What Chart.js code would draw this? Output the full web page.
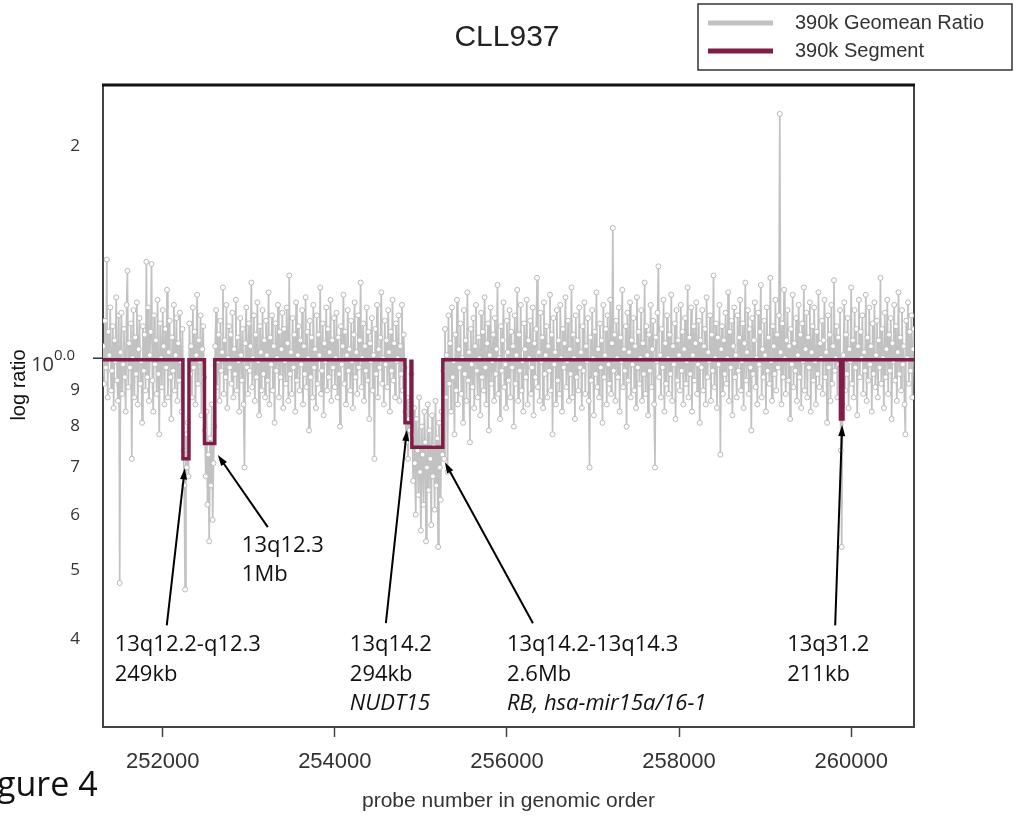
<!DOCTYPE html>
<html><head><meta charset="utf-8">
<script src="https://cdn.jsdelivr.net/npm/chart.js@4.4.0/dist/chart.umd.min.js"></script>
<style>html,body{margin:0;padding:0;background:#fff;overflow:hidden}canvas{display:block}</style>
</head><body>
<canvas id="c" width="1017" height="816"></canvas>
<script>
// ---------- text ----------
const chartTitle = 'CLL937';
const xAxisTitle = 'probe number in genomic order';
const yAxisTitle = 'log ratio';
const figureLabel = 'gure 4';
const legendLabels = ['390k Geomean Ratio', '390k Segment'];

// ---------- axes ----------
const xMin = 251306, xMax = 260730;
const yMin = 0.30, yMax = 2.44;
const xTicks = [252000, 254000, 256000, 258000, 260000];
const yTickValues = [0.4, 0.5, 0.6, 0.7, 0.8, 0.9, 1, 2];
const yTickLabels = ['4', '5', '6', '7', '8', '9', '', '2'];

// ---------- geomean ratio (values x100), one value every probeStep probes ----------
const probeStep = 10;
const ratioP1Start = 251310;
const ratioP1 = [104,92,113,97,138,88,109,101,118,90,96,111,85,106,99,122,93,87,115,48,
102,116,89,98,110,94,84,119,133,91,105,97,112,72,100,117,88,107,95,120,
86,103,114,92,99,81,111,96,108,90,137,94,118,87,101,109,136,93,84,115,
98,106,89,121,95,78,112,100,91,117,104,86,110,97,125,88,102,113,94,82,
107,96,119,90,101,114,87,105,93,116,99,84,110];
const ratioDel1Start = 252240;
const ratioDel1 = [74,66,47,78,70,81,68];
const ratioP2Start = 252310;
const ratioP2 = [112,95,104,88,118,97,109,86,101,123,92,106,99,115,83,103,111,94];
const ratioDel2Start = 252490;
const ratioDel2 = [79,68,84,62,73,55,77,66,86,59,71,80];
const ratioP3Start = 252610;
const ratioP3 = [104,117,91,99,108,87,113,96,102,126,89,106,94,119,85,100,111,97,108,92,
116,88,103,95,121,90,107,99,84,114,101,93,110,86,70,105,118,97,89,112,
96,104,128,91,100,115,87,108,94,120,99,83,111,102,90,117,95,106,88,113,
101,93,124,86,107,98,115,90,104,81,112,96,100,119,88,109,94,103,116,85,
110,99,92,118,105,87,131,95,102,89,114,97,108,84,120,93,101,111,90,106,
98,117,86,104,95,122,91,109,100,79,113,94,107,88,119,97,103,85,115,92,
108,101,126,89,96,112,83,105,99,118,90,110,94,102,121,87,106,97,114,91,
100,116,88,107,95,80,111,98,104,123,92,109,86,101,117,96,103,90,113,99,
85,108,120,94,102,89,115,97,106,128,91,100,112,87,104,96,118,93,109,82,
105,99,114,90,101,72,110,95,119,88,103,97,107,124,92,100,86,113,98,106,
91,117,102,84,109,96,121,93,105,88,112,99,100,115,87,104,95,119,90,108,97];
const ratioDel3Start = 254820;
const ratioDel3 = [84,76,88,72,82,79,86];
const ratioGapStart = 254890;
const ratioGap = [95];
const ratioDel4Start = 254900;
const ratioDel4 = [78,67,85,71,60,82,74,64,88,69,57,80,73,62,84,76,55,70,86,65,
79,72,58,83,68,75,61,87,66,77,54,81,70,63,84,73];
const ratioP4Start = 255260;
const ratioP4 = [96,72,110,88,101,69,115,92,105,84,118,94,99,78,108,90,121,86,103,97,
112,89,100,81,117,95,106,87,124,93,102,76,110,98,91,114,85,104,119,96,
88,107,100,83,116,94,109,90,122,97,86,105,112,79,101,118,92,99,108,87,
114,95,103,127,89,100,82,111,96,106,120,91,98,85,113,102,93,117,88,109,
97,104,80,115,92,101,125,87,108,96,119,90,99,84,112,103,94,121,86,106,
100,113,89,97,118,83,105,94,110,130,91,102,87,116,99,107,85,120,95,101,
111,88,104,96,123,90,108,78,114,98,102,86,117,93,106,89,119,100,84,110,
97,105,122,91,99,113,87,103,95,126,88,108,100,82,115,94,106,90,118,97,
102,85,111,96,120,89,104,99,114,87,70,107,93,117,100,83,109,95,124,91,
103,88,112,97,106,81,119,94,101,110,86,115,98,92,121,89,105,153,96,108,
87,113,100,94,118,84,107,99,125,91,103,96,111,80,116,93,102,120,88,106,
98,114,90,104,85,122,97,109,92,100,117,87,105,95,128,89,111,101,83,108,
96,119,91,103,113,86,70,107,99,116,135,94,101,88,110,97,121,84,105,92,
115,100,89,108,95,123,87,104,98,112,82,117,93,106,101,90,119,96,109,86,
103,114,92,99,126,88,107,95,118,84,101,111,93,105,120,89,98,113,81,106,
97,117,90,104,110,86,122,94,102,99,115,87,108,96,131,91,100,112,85,107,
98,119,73,103,111,89,106,95,116,92,100,124,87,109,97,113,83,104,118,94,
101,88,115,96,107,121,90,99,112,85,105,128,93,102,117,89,110,97,79,114,
95,106,120,91,100,86,116,98,109,127,88,103,94,113,101,84,118,96,107,92,
130,99,87,111,104,95,121,90,108,97,115,222,102,86,112,94,125,100,89,106,
117,93,104,82,110,98,123,91,105,96,114,87,101,119,94,108,85,112,99,126,
90,103,116,88,107,97,120,84,102,111,93,118,99,86,109,95,124,91,105,100,
113,89,106,121,94,102,81,115,97,108,87,119,92,104,129,96,100,111,88,107,98,117];
const ratioDel5Start = 259880;
const ratioDel5 = [74,54,86];
const ratioP5Start = 259910;
const ratioP5 = [101,120,90,108,95,114,85,103,99,126,92,106,88,117,97,110,83,104,121,94,
109,100,115,89,102,96,123,87,107,93,118,98,104,84,112,95,120,91,101,113,
88,106,97,130,92,110,100,85,116,94,103,121,89,108,96,114,82,105,99,119,
93,111,87,102,124,95,107,90,117,98,104,86,78,113,100,120,92,109,96,115,88,103,110];

// ---------- segmentation ----------
const segStart = [251306, 252235, 252305, 252485, 252605, 254815, 254885, 254895, 255255, 259875, 259905];
const segEnd   = [252235, 252305, 252485, 252605, 254815, 254885, 254895, 255255, 259875, 259905, 260730];
const segValue = [0.995, 0.72, 0.995, 0.757, 0.995, 0.81, 0.99, 0.748, 0.995, 0.82, 0.995];

// ---------- annotations (data coordinates) ----------
const annotations = [
  {lines:['13q12.2-q12.3','249kb'], italic:[false,false], tx:251442, ty:0.392, ax0:252047, ay0:0.418, ax1:252256, ay1:0.698},
  {lines:['13q12.3','1Mb'], italic:[false,false], tx:252919, ty:0.543, ax0:253221, ay0:0.576, ax1:252640, ay1:0.729},
  {lines:['13q14.2','294kb','NUDT15'], italic:[false,false,true], tx:254174, ty:0.392, ax0:254593, ay0:0.421, ax1:254837, ay1:0.791},
  {lines:['13q14.2-13q14.3','2.6Mb','RB, hsa-mir15a/16-1'], italic:[false,false,true], tx:256000, ty:0.392, ax0:256302, ay0:0.421, ax1:255279, ay1:0.712},
  {lines:['13q31.2','211kb'], italic:[false,false], tx:259256, ty:0.392, ax0:259814, ay0:0.418, ax1:259895, ay1:0.804}
];

// ---------- styles ----------
const GRAY = '#c2c2c2';
const SEG = '#7f1d48';
const INK = '#333333';
const ANN_FONT = '"Open Sans", "Noto Sans", sans-serif';
const AX_FONT = '"Liberation Sans", Arial, sans-serif';

// ---------- build points ----------
const ratioBlocks = [
  [ratioP1Start, ratioP1], [ratioDel1Start, ratioDel1], [ratioP2Start, ratioP2], [ratioDel2Start, ratioDel2],
  [ratioP3Start, ratioP3], [ratioDel3Start, ratioDel3], [ratioGapStart, ratioGap], [ratioDel4Start, ratioDel4],
  [ratioP4Start, ratioP4], [ratioDel5Start, ratioDel5], [ratioP5Start, ratioP5]
];
const ratioPoints = [];
ratioBlocks.forEach(([s, arr]) => arr.forEach((v, k) => ratioPoints.push({x: s + k * probeStep, y: v / 100})));
const segPoints = [];
segStart.forEach((s, k) => { segPoints.push({x: s, y: segValue[k]}); segPoints.push({x: segEnd[k], y: segValue[k]}); });

const overlay = {
  id: 'overlay',
  beforeDatasetsDraw(chart) {
    const {ctx, chartArea: a} = chart;
    ctx.save();
    ctx.strokeStyle = '#444'; ctx.lineWidth = 2;
    ctx.strokeRect(a.left, a.top, a.right - a.left, a.bottom - a.top);
    ctx.strokeStyle = '#111'; ctx.lineWidth = 3;
    ctx.beginPath(); ctx.moveTo(a.left - 1, a.top); ctx.lineTo(a.right + 1, a.top); ctx.stroke();
    ctx.restore();
  },
  afterDatasetsDraw(chart) {
    const {ctx, scales: {x, y}} = chart;
    ctx.save();
    annotations.forEach(an => {
      const x0 = x.getPixelForValue(an.ax0), y0 = y.getPixelForValue(an.ay0);
      const x1 = x.getPixelForValue(an.ax1), y1 = y.getPixelForValue(an.ay1);
      const ang = Math.atan2(y1 - y0, x1 - x0);
      const L = 11, W = 3.5;
      ctx.strokeStyle = '#000'; ctx.lineWidth = 2;
      ctx.beginPath(); ctx.moveTo(x0, y0);
      ctx.lineTo(x1 - Math.cos(ang) * L * 0.8, y1 - Math.sin(ang) * L * 0.8); ctx.stroke();
      ctx.fillStyle = '#000';
      ctx.beginPath(); ctx.moveTo(x1, y1);
      ctx.lineTo(x1 - Math.cos(ang) * L - Math.sin(ang) * W, y1 - Math.sin(ang) * L + Math.cos(ang) * W);
      ctx.lineTo(x1 - Math.cos(ang) * L + Math.sin(ang) * W, y1 - Math.sin(ang) * L - Math.cos(ang) * W);
      ctx.closePath(); ctx.fill();
      const tx = x.getPixelForValue(an.tx), ty = y.getPixelForValue(an.ty);
      ctx.textAlign = 'left'; ctx.textBaseline = 'middle'; ctx.fillStyle = '#111';
      an.lines.forEach((t, k) => {
        ctx.font = (an.italic[k] ? 'italic ' : '') + '22px ' + ANN_FONT;
        ctx.fillText(t, tx, ty + k * 29.5);
      });
    });
    ctx.restore();
  },
  afterDraw(chart) {
    const {ctx, chartArea: a, scales: {y}} = chart;
    ctx.save();
    // title
    ctx.fillStyle = '#222'; ctx.textAlign = 'center'; ctx.textBaseline = 'middle';
    ctx.font = '30px ' + AX_FONT;
    ctx.fillText(chartTitle, 507, 38);
    // x axis title
    ctx.font = '21px ' + AX_FONT; ctx.fillStyle = INK;
    ctx.fillText(xAxisTitle, (a.left + a.right) / 2, 801);
    // y axis title
    ctx.save(); ctx.translate(19, 385); ctx.rotate(-Math.PI / 2);
    ctx.font = '20px ' + AX_FONT; ctx.fillStyle = '#111';
    ctx.fillText(yAxisTitle, 0, 0); ctx.restore();
    // 10^0.0 label and its tick
    const py = y.getPixelForValue(1);
    ctx.strokeStyle = '#333'; ctx.lineWidth = 1.5;
    ctx.beginPath(); ctx.moveTo(a.left - 10, py); ctx.lineTo(a.left, py); ctx.stroke();
    ctx.fillStyle = INK; ctx.textBaseline = 'middle';
    ctx.textAlign = 'right'; ctx.font = '20px ' + ANN_FONT;
    ctx.fillText('10', 54, py + 7);
    ctx.textAlign = 'left'; ctx.font = '15px ' + ANN_FONT;
    ctx.fillText('0.0', 54, py - 2);
    // figure label
    ctx.textAlign = 'left'; ctx.textBaseline = 'middle'; ctx.fillStyle = '#111';
    ctx.font = '34px ' + ANN_FONT;
    ctx.fillText(figureLabel, -3, 786);
    // legend
    ctx.strokeStyle = '#333'; ctx.lineWidth = 1.5;
    ctx.strokeRect(698, 4, 314, 66);
    ctx.lineCap = 'butt'; ctx.lineWidth = 5;
    ctx.strokeStyle = GRAY; ctx.beginPath(); ctx.moveTo(708, 23); ctx.lineTo(773, 23); ctx.stroke();
    ctx.strokeStyle = SEG; ctx.beginPath(); ctx.moveTo(708, 51); ctx.lineTo(773, 51); ctx.stroke();
    ctx.fillStyle = INK; ctx.font = '20px ' + AX_FONT; ctx.textAlign = 'left';
    ctx.fillText(legendLabels[0], 795, 23);
    ctx.fillText(legendLabels[1], 795, 51);
    ctx.restore();
  }
};

new Chart(document.getElementById('c'), {
  type: 'line',
  data: {
    datasets: [
      {label: legendLabels[1], data: segPoints, borderColor: SEG, borderWidth: 3.5, pointRadius: 0, tension: 0, fill: false},
      {label: legendLabels[0], data: ratioPoints, borderColor: GRAY, borderWidth: 1.7, pointRadius: 2.5,
       pointStyle: 'circle', pointBackgroundColor: '#ffffff', pointBorderColor: '#b8b8b8', pointBorderWidth: 1, tension: 0, fill: false}
    ]
  },
  options: {
    responsive: false, animation: false, events: [],
    layout: {padding: {top: 85, right: 103, left: 0, bottom: 0}},
    plugins: {legend: {display: false}, title: {display: false}, tooltip: {enabled: false}},
    scales: {
      x: {
        type: 'linear', min: xMin, max: xMax,
        afterBuildTicks: s => { s.ticks = xTicks.map(v => ({value: v})); },
        afterFit: s => { s.height = 89; },
        grid: {drawOnChartArea: false, tickLength: 10, tickColor: '#444', tickWidth: 1.5},
        border: {display: false},
        ticks: {padding: 12, color: INK, font: {family: AX_FONT, size: 22}, maxRotation: 0, callback: v => String(v)}
      },
      y: {
        type: 'logarithmic', min: yMin, max: yMax,
        afterBuildTicks: s => { s.ticks = yTickValues.map(v => ({value: v})); },
        afterFit: s => { s.width = 103; },
        grid: {display: false},
        border: {display: false},
        ticks: {padding: 15, color: INK, font: {family: ANN_FONT, size: 17},
          callback: (v) => { const k = yTickValues.indexOf(v); return k >= 0 ? yTickLabels[k] : ''; }}
      }
    }
  },
  plugins: [overlay]
});
</script>
</body></html>
